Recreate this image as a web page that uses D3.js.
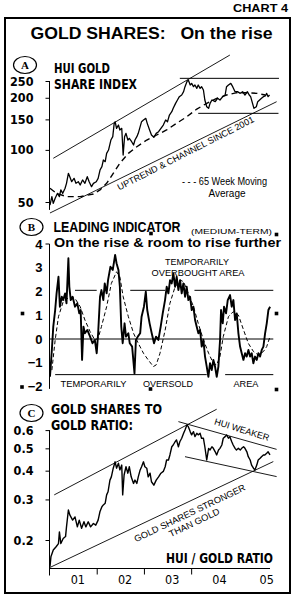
<!DOCTYPE html>
<html><head><meta charset="utf-8">
<script src="https://cdn.jsdelivr.net/npm/d3@7"></script>
<style>body{margin:0;background:#fff}svg{display:block}</style>
</head><body><svg id="c" width="297" height="597"></svg>
<script>
// ---------- DATA ----------
const yearLabels = ["01","02","03","04","05"];
const yearTicks = [2002, 2003, 2004];
const huiTicks = [50, 100, 150, 200, 250];
const indTicks = [-2, -1, 0, 1, 2, 3, 4];
const ratioTicks = [0.2, 0.3, 0.4, 0.5, 0.6];

const hui = [[2001.01,48],[2001.05,53.7],[2001.08,49.1],[2001.12,52.5],[2001.17,56.1],[2001.21,53.7],[2001.24,58.7],[2001.28,56.1],[2001.33,60],[2001.36,64.1],[2001.40,73.2],[2001.43,70],[2001.47,65.5],[2001.52,68.5],[2001.56,64.1],[2001.61,65.5],[2001.65,62.7],[2001.70,67],[2001.75,64.1],[2001.80,70],[2001.84,65.5],[2001.89,61.3],[2001.93,64.1],[2001.99,65.5],[2002.03,68.5],[2002.07,76.5],[2002.11,80],[2002.14,87.4],[2002.18,85.5],[2002.21,95.5],[2002.25,99.8],[2002.30,114],[2002.34,119.2],[2002.37,142.3],[2002.39,145.5],[2002.42,133.2],[2002.46,139.2],[2002.49,130.3],[2002.53,133.2],[2002.56,93.4],[2002.59,119.2],[2002.62,124.6],[2002.66,114],[2002.69,116.6],[2002.74,111.5],[2002.78,106.7],[2002.81,114],[2002.85,119.2],[2002.88,124.6],[2002.92,136.2],[2002.95,145.5],[2002.99,148.8],[2003.04,152.1],[2003.07,142.3],[2003.12,130.3],[2003.16,121.9],[2003.21,118.2],[2003.26,124.6],[2003.31,127.4],[2003.36,133.2],[2003.41,139.2],[2003.46,148.8],[2003.50,145.5],[2003.54,159],[2003.59,166.2],[2003.62,173.8],[2003.67,185.7],[2003.71,194.1],[2003.75,202.9],[2003.80,207.5],[2003.84,216.9],[2003.87,231.8],[2003.91,247.7],[2003.94,253.2],[2003.98,237],[2004.01,242.3],[2004.05,231.8],[2004.08,237],[2004.12,226.7],[2004.15,237],[2004.19,226.7],[2004.22,231.8],[2004.26,221.7],[2004.29,194.1],[2004.33,177.6],[2004.37,173.8],[2004.40,185.7],[2004.44,194.1],[2004.51,189.9],[2004.56,198.5],[2004.61,194.1],[2004.67,202.9],[2004.72,207.5],[2004.75,231.8],[2004.79,237],[2004.84,242.3],[2004.88,231.8],[2004.93,216.9],[2004.98,216.9],[2005.04,212.2],[2005.09,216.9],[2005.14,207.5],[2005.19,216.9],[2005.23,207.5],[2005.26,202.9],[2005.30,185.7],[2005.33,173.8],[2005.38,177.6],[2005.41,189.9],[2005.45,194.1],[2005.49,198.5],[2005.53,202.9],[2005.57,205],[2005.60,212],[2005.63,202.9],[2005.66,207.5]];

const huiMA65 = [[2001.01,60],[2001.15,56.1],[2001.36,53.7],[2001.65,53.7],[2001.93,55.6],[2002.07,58.7],[2002.21,64.1],[2002.35,73.2],[2002.49,83.6],[2002.67,95.5],[2002.85,104.3],[2003.06,114],[2003.27,121.9],[2003.48,130.3],[2003.69,142.3],[2003.91,155.5],[2004.12,172.2],[2004.33,185.7],[2004.54,198.5],[2004.75,207.5],[2004.97,214],[2005.18,214],[2005.40,212],[2005.57,207.5]];

const huiChannelUpper = [[2001.08,89.4],[2004.82,353]];
const huiChannelLower = [[2001.01,43.2],[2005.81,189.8]];
const huiRangeTop = [[2003.76,259],[2005.86,259]];
const huiRangeBottom = [[2004.15,162.6],[2005.85,162.6]];

const indicator = [[2001.01,-1.59],[2001.05,-0.46],[2001.08,0.52],[2001.12,1.22],[2001.15,1.92],[2001.19,2.62],[2001.22,1.36],[2001.26,1.78],[2001.29,1.64],[2001.33,1.92],[2001.36,1.50],[2001.40,3.40],[2001.42,2.20],[2001.45,1.64],[2001.49,1.78],[2001.54,1.36],[2001.59,1.50],[2001.63,1.08],[2001.66,1.22],[2001.69,-0.88],[2001.72,0.52],[2001.75,0.24],[2001.80,0.38],[2001.86,0.10],[2001.91,-0.18],[2001.96,-0.04],[2002.00,-0.60],[2002.03,0.24],[2002.07,1.78],[2002.10,2.06],[2002.14,1.64],[2002.17,2.34],[2002.21,1.92],[2002.24,2.48],[2002.29,3.04],[2002.34,2.91],[2002.39,3.54],[2002.42,3.19],[2002.46,2.91],[2002.49,2.20],[2002.52,0.52],[2002.55,-0.18],[2002.59,0.66],[2002.62,0.10],[2002.67,0.24],[2002.70,-0.18],[2002.75,-0.32],[2002.80,-1.45],[2002.83,-0.04],[2002.87,0.10],[2002.92,0.24],[2002.95,0.94],[2003.00,1.36],[2003.04,1.99],[2003.07,1.22],[2003.12,0.66],[2003.165,0.24],[2003.214,-0.18],[2003.256,0.10],[2003.306,-0.04],[2003.355,0.52],[2003.398,1.08],[2003.447,1.64],[2003.482,2.20],[2003.518,1.92],[2003.553,2.48],[2003.588,2.34],[2003.624,2.76],[2003.659,2.20],[2003.694,2.62],[2003.730,2.06],[2003.765,2.48],[2003.800,1.92],[2003.835,2.34],[2003.871,1.78],[2003.906,2.20],[2003.941,1.64],[2003.977,1.78],[2004.012,1.22],[2004.047,1.36],[2004.083,0.80],[2004.118,0.52],[2004.153,0.24],[2004.189,0.38],[2004.224,-0.32],[2004.259,-0.04],[2004.294,-0.74],[2004.330,-1.16],[2004.365,-1.59],[2004.400,-1.02],[2004.436,-1.31],[2004.471,-0.88],[2004.506,-1.16],[2004.542,-1.59],[2004.577,-1.16],[2004.612,-0.04],[2004.633,1.22],[2004.669,0.66],[2004.697,1.36],[2004.739,1.08],[2004.775,1.64],[2004.824,1.85],[2004.859,1.36],[2004.895,1.64],[2004.930,0.80],[2004.965,1.08],[2005.001,0.24],[2005.036,-0.32],[2005.071,-0.60],[2005.107,-0.88],[2005.142,-0.60],[2005.177,-0.74],[2005.213,-0.46],[2005.248,-0.74],[2005.283,-0.60],[2005.318,-1.02],[2005.354,-0.74],[2005.389,-0.88],[2005.424,-0.60],[2005.460,-0.74],[2005.495,-0.46],[2005.530,-0.32],[2005.566,0.24],[2005.601,0.66],[2005.636,1.22],[2005.672,1.36]];

const indicatorSmooth = [[2001.05,-1.31],[2001.12,-0.04],[2001.19,0.94],[2001.29,1.57],[2001.43,1.78],[2001.54,1.71],[2001.65,1.36],[2001.75,0.80],[2001.86,0.31],[2001.96,-0.04],[2002.03,0.03],[2002.10,0.52],[2002.21,1.36],[2002.31,2.34],[2002.42,2.83],[2002.49,2.62],[2002.56,1.78],[2002.67,0.94],[2002.78,0.24],[2002.88,-0.18],[2002.99,-0.60],[2003.09,-0.88],[2003.20,-1.16],[2003.26,-1.09],[2003.34,-0.60],[2003.45,0.38],[2003.55,1.50],[2003.66,2.20],[2003.77,2.48],[2003.84,2.41],[2003.94,1.92],[2004.05,1.36],[2004.15,0.66],[2004.26,-0.04],[2004.37,-0.60],[2004.47,-1.02],[2004.54,-1.09],[2004.61,-0.74],[2004.68,0.10],[2004.79,0.94],[2004.89,1.15],[2005.00,1.01],[2005.11,0.38],[2005.21,-0.18],[2005.32,-0.53],[2005.42,-0.67],[2005.53,-0.53],[2005.60,-0.32],[2005.67,0.10]];

const overboughtLevel = 2.05;
const overboughtSpans = [[2001.54,2002.00],[2002.71,2003.45],[2004.07,2005.74]];
const oversoldLevel = -1.5;
const oversoldSpans = [[2001.12,2004.33],[2004.72,2005.74]];
const zeroSpan = [2001.0, 2005.74];

const ratio = [[2001.01,0.153],[2001.03,0.169],[2001.08,0.181],[2001.14,0.187],[2001.19,0.193],[2001.21,0.217],[2001.24,0.193],[2001.29,0.203],[2001.34,0.207],[2001.36,0.228],[2001.40,0.270],[2001.43,0.257],[2001.49,0.244],[2001.54,0.252],[2001.59,0.228],[2001.63,0.244],[2001.68,0.225],[2001.73,0.240],[2001.77,0.228],[2001.82,0.240],[2001.87,0.228],[2001.93,0.236],[2001.98,0.232],[2002.03,0.244],[2002.07,0.266],[2002.11,0.279],[2002.14,0.284],[2002.18,0.289],[2002.21,0.314],[2002.24,0.324],[2002.28,0.364],[2002.31,0.376],[2002.35,0.410],[2002.39,0.437],[2002.42,0.410],[2002.46,0.431],[2002.49,0.403],[2002.53,0.423],[2002.55,0.314],[2002.58,0.383],[2002.62,0.416],[2002.66,0.390],[2002.69,0.416],[2002.73,0.376],[2002.78,0.352],[2002.81,0.364],[2002.85,0.352],[2002.88,0.376],[2002.92,0.403],[2002.95,0.416],[2002.99,0.437],[2003.02,0.416],[2003.06,0.410],[2003.09,0.376],[2003.13,0.390],[2003.16,0.358],[2003.21,0.346],[2003.26,0.364],[2003.31,0.376],[2003.36,0.390],[2003.41,0.397],[2003.45,0.416],[2003.48,0.445],[2003.52,0.445],[2003.55,0.468],[2003.59,0.508],[2003.62,0.517],[2003.66,0.534],[2003.69,0.544],[2003.73,0.508],[2003.76,0.534],[2003.80,0.553],[2003.84,0.581],[2003.87,0.601],[2003.91,0.632],[2003.94,0.621],[2003.98,0.591],[2004.01,0.572],[2004.05,0.591],[2004.08,0.562],[2004.12,0.581],[2004.15,0.572],[2004.19,0.581],[2004.22,0.553],[2004.26,0.553],[2004.29,0.508],[2004.33,0.445],[2004.37,0.500],[2004.40,0.492],[2004.44,0.508],[2004.47,0.500],[2004.51,0.483],[2004.54,0.468],[2004.58,0.492],[2004.61,0.500],[2004.65,0.517],[2004.68,0.553],[2004.72,0.562],[2004.75,0.572],[2004.79,0.553],[2004.82,0.562],[2004.86,0.534],[2004.89,0.517],[2004.93,0.500],[2004.96,0.492],[2005.00,0.500],[2005.04,0.492],[2005.07,0.500],[2005.11,0.508],[2005.14,0.500],[2005.18,0.483],[2005.21,0.460],[2005.25,0.445],[2005.28,0.423],[2005.32,0.410],[2005.35,0.403],[2005.39,0.423],[2005.42,0.445],[2005.46,0.453],[2005.49,0.460],[2005.53,0.468],[2005.56,0.468],[2005.60,0.476],[2005.63,0.483],[2005.67,0.468]];

const ratioChannelUpper = [[2001.10,0.314],[2004.54,0.739]];
const ratioChannelLower = [[2001.01,0.152],[2005.74,0.438]];
const ratioWeakUpper = [[2003.73,0.653],[2005.81,0.495]];
const ratioWeakLower = [[2003.87,0.460],[2005.81,0.377]];

// ---------- DRAWING ----------
const NARROW = "'Liberation Sans Narrow','Arial Narrow','DejaVu Sans Condensed',sans-serif";
const SANS = "'Liberation Sans',Arial,Helvetica,sans-serif";
const SERIF = "'Liberation Serif','Times New Roman',serif";

const svg = d3.select("#c");
svg.append("rect").attr("width",297).attr("height",597).attr("fill","#fff");

const x = d3.scaleLinear().domain([2001, 2005.67]).range([49.5, 270]);
const yA = d3.scaleLog().domain([50, 250]).range([202, 81]);
const yB = d3.scaleLinear().domain([-2, 4]).range([386.5, 244]);
const yC = d3.scaleLog().domain([0.2, 0.6]).range([540, 430.1]);

function text(s, px, py, o = {}) {
  const t = svg.append("text").attr("x", px).attr("y", py).text(s)
    .attr("font-family", o.family || SANS)
    .attr("font-size", o.size || 10)
    .attr("font-weight", o.weight || "normal")
    .attr("fill", "#000")
    .style("white-space", "pre")
    .attr("text-anchor", o.anchor || "start");
  if (o.len) t.attr("textLength", o.len).attr("lengthAdjust", "spacingAndGlyphs");
  if (o.rotate !== undefined) t.attr("transform", `rotate(${o.rotate},${px},${py})`);
  if (o.ls) t.attr("letter-spacing", o.ls);
  return t;
}
function seg(data, ys, w = 1, dash = null) {
  const p = svg.append("path").datum(data)
    .attr("d", d3.line().x(d => x(d[0])).y(d => ys(d[1])))
    .attr("fill", "none").attr("stroke", "#000").attr("stroke-width", w)
    .attr("stroke-linejoin", "round");
  if (dash) p.attr("stroke-dasharray", dash);
  return p;
}

// frame
svg.append("rect").attr("x", 5).attr("y", 18).attr("width", 285).attr("height", 575)
  .attr("fill", "none").attr("stroke", "#000").attr("stroke-width", 2);

text("CHART 4", 288, 12, {size: 11.5, weight: "bold", anchor: "end", len: 55});
text("GOLD SHARES:   On the rise", 30.5, 39, {size: 16, weight: "bold", len: 242, family: SANS});

function badge(letter, cx, cy) {
  svg.append("ellipse").attr("cx", cx).attr("cy", cy).attr("rx", 11.5).attr("ry", 8.5)
    .attr("fill", "#fff").attr("stroke", "#000").attr("stroke-width", 1.2);
  text(letter, cx, cy + 4, {size: 11, weight: "bold", anchor: "middle", family: SERIF});
}

// ===== PANEL A =====
badge("A", 25, 65);
text("HUI GOLD", 54, 73, {size: 14, weight: "bold", family: NARROW, len: 56});
text("SHARE INDEX", 54, 89, {size: 14, weight: "bold", family: NARROW, len: 83});

const axA = svg.append("g").attr("transform", "translate(49.5,0)")
  .call(d3.axisLeft(yA).tickValues(huiTicks).tickSize(4).tickPadding(12).tickFormat(d3.format("d")));
axA.select(".domain").remove();
axA.selectAll("line").attr("stroke", "#000");
axA.selectAll("text").attr("font-family", NARROW).attr("font-size", 12.5).attr("font-weight", "bold").attr("fill", "#000");
svg.append("line").attr("x1", 49.5).attr("x2", 49.5).attr("y1", yA(250)).attr("y2", yA(45))
  .attr("stroke", "#000");

seg(huiChannelUpper, yA, 0.9);
seg(huiChannelLower, yA, 0.9);
seg(huiRangeTop, yA, 1);
seg(huiRangeBottom, yA, 1);
seg(huiMA65, yA, 1.4, "6,4");
seg(hui, yA, 1.3);

text("UPTREND & CHANNEL SINCE 2001", 187, 156, {size: 9, anchor: "middle", rotate: -27, len: 152});
text("- - - 65 Week Moving", 182, 185, {size: 10, len: 85});
text("Average", 227, 196.5, {size: 10, anchor: "middle"});

// ===== PANEL B =====
badge("B", 31.5, 227);
text("LEADING INDICATOR", 53.5, 232, {size: 14, weight: "bold", len: 127});
text("(MEDIUM-TERM)", 191, 233.5, {size: 7.5, len: 81});
text("On the rise & room to rise further", 54, 246.5, {size: 13, weight: "bold", len: 227});

const axB = svg.append("g").attr("transform", "translate(49.5,0)")
  .call(d3.axisLeft(yB).tickValues(indTicks).tickSize(0).tickPadding(7).tickFormat(d3.format("d")));
axB.select(".domain").remove();
axB.selectAll("text").attr("font-family", SANS).attr("font-size", 13).attr("font-weight", "bold").attr("fill", "#000");
svg.append("line").attr("x1", 49.5).attr("x2", 49.5).attr("y1", yB(4)).attr("y2", yB(-2.1)).attr("stroke", "#000");
svg.append("line").attr("x1", 45.5).attr("x2", 49.5).attr("y1", yB(4)).attr("y2", yB(4)).attr("stroke", "#000");

svg.append("line").attr("x1", x(zeroSpan[0])).attr("x2", x(zeroSpan[1]))
  .attr("y1", yB(0)).attr("y2", yB(0)).attr("stroke", "#000").attr("stroke-width", 1);
overboughtSpans.forEach(s => seg([[s[0], overboughtLevel], [s[1], overboughtLevel]], yB, 1));
oversoldSpans.forEach(s => seg([[s[0], oversoldLevel], [s[1], oversoldLevel]], yB, 1));

seg(indicatorSmooth, yB, 1, "4,2.5");
seg(indicator, yB, 1.9);

text("TEMPORARILY", 197, 265, {size: 9, anchor: "middle"});
text("OVERBOUGHT AREA", 198, 275.5, {size: 9, anchor: "middle", len: 93});
text("TEMPORARILY", 93.5, 387, {size: 9, anchor: "middle", len: 66});
text("OVERSOLD", 168, 387, {size: 9, anchor: "middle", len: 50});
text("AREA", 246, 387, {size: 9, anchor: "middle", len: 25});

// registration squares
const squares = [[22.5,313.5],[276.5,313.5],[151,233.5],[276.5,234.5],[22,387],[150.5,389],[276.5,389.5]];
svg.selectAll("rect.sq").data(squares).enter().append("rect").attr("class", "sq")
  .attr("x", d => d[0] - 1.8).attr("y", d => d[1] - 1.8).attr("width", 3.6).attr("height", 3.6).attr("fill", "#000");

// ===== PANEL C =====
badge("C", 31.5, 413);
text("GOLD SHARES TO", 51, 413.5, {size: 14, weight: "bold", family: NARROW, len: 111});
text("GOLD RATIO:", 51, 429.5, {size: 14, weight: "bold", family: NARROW, len: 82});

const axC = svg.append("g").attr("transform", "translate(49.5,0)")
  .call(d3.axisLeft(yC).tickValues(ratioTicks).tickSize(4).tickPadding(12).tickFormat(d3.format(".1f")));
axC.select(".domain").remove();
axC.selectAll("line").attr("stroke", "#000");
axC.selectAll("text").attr("font-family", NARROW).attr("font-size", 12.5).attr("font-weight", "bold").attr("fill", "#000");
svg.append("line").attr("x1", 49.5).attr("x2", 49.5).attr("y1", yC(0.6)).attr("y2", 575.5).attr("stroke", "#000");

// bottom axis
const axX = svg.append("g").attr("transform", "translate(0,568.5)")
  .call(d3.axisBottom(x).tickValues(yearTicks).tickSize(6).tickFormat(""));
axX.select(".domain").attr("d", `M${x(2001)},0H${x(2005.67)}`).attr("stroke", "#000");
axX.selectAll("line").attr("stroke", "#000");
svg.selectAll("text.yl").data(yearLabels).enter().append("text").attr("class", "yl")
  .attr("x", (d, i) => x(2001 + i + 0.6)).attr("y", 583.5)
  .attr("text-anchor", "middle").attr("font-family", NARROW).attr("font-size", 12.5)
  .attr("fill", "#000").text(d => d);

seg(ratioChannelUpper, yC, 0.9);
seg(ratioChannelLower, yC, 0.9);
seg(ratioWeakUpper, yC, 0.9);
seg(ratioWeakLower, yC, 0.9);
seg(ratio, yC, 1.4);

text("HUI WEAKER", 241, 432.5, {size: 9, anchor: "middle", rotate: 17, len: 57});
text("GOLD SHARES STRONGER", 191, 516, {size: 9, anchor: "middle", rotate: -25.5, len: 122});
text("THAN GOLD", 195.5, 525.5, {size: 9, anchor: "middle", rotate: -25.5, len: 55});
text("HUI / GOLD RATIO", 273, 563, {size: 14, weight: "bold", family: NARROW, anchor: "end", len: 107});
</script></body></html>
